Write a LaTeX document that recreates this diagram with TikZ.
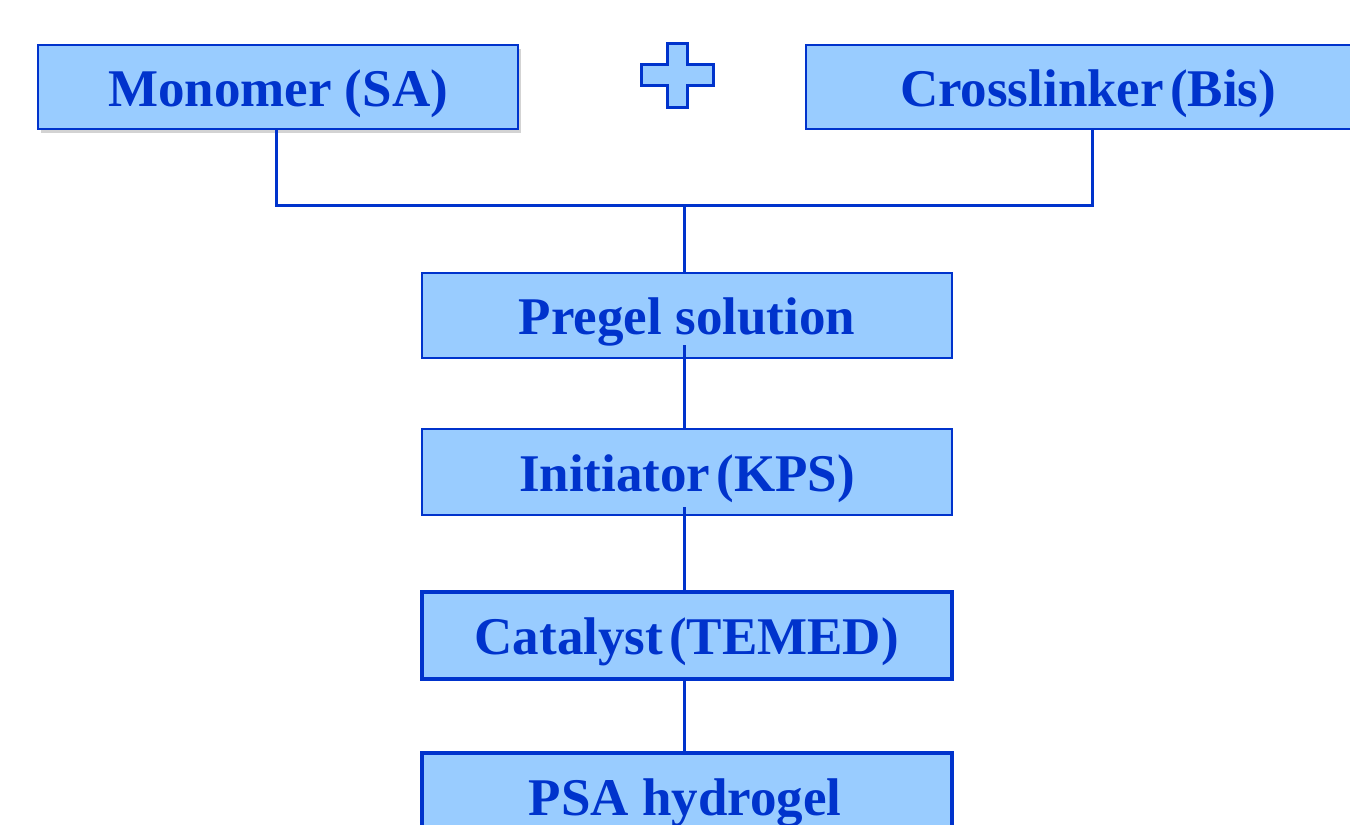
\documentclass[tikz,border=0pt]{standalone}
\usepackage{fontspec}
\setmainfont{Liberation Serif}
\usetikzlibrary{shadows}
\definecolor{tblue}{HTML}{0033CC}
\definecolor{bfill}{HTML}{99CCFF}
\tikzset{
  stepbox/.style={draw=tblue, fill=bfill, line width=2pt, inner sep=0pt, anchor=north west,
    font=\fontsize{53}{60}\selectfont\bfseries, text=tblue, text height=61pt, text depth=23pt},
  thickbox/.style={stepbox, line width=3.5pt},
  conn/.style={draw=tblue, line width=3pt}
}
\newcommand{\tsp}{\hspace{6pt}}
\begin{document}
\begin{tikzpicture}[x=1pt,y=-1pt]
\useasboundingbox (0,0) rectangle (1350,825);
\begin{scope}
\clip (0,0) rectangle (1350,825);
\node[stepbox, minimum width=480pt, minimum height=84pt,
  drop shadow={shadow xshift=3pt, shadow yshift=-4pt, opacity=0.35}] (mono) at (37,44) {Monomer (SA)};
\node[stepbox, minimum width=600pt, minimum height=84pt, text width=560pt, align=left] (cross) at (805,44) {\hspace*{74pt}Crosslinker\tsp(Bis)};
\node[stepbox, minimum width=530pt, minimum height=85pt] (pregel) at (421,272) {Pregel solution};
\node[stepbox, minimum width=530pt, minimum height=86pt] (init) at (421,428) {Initiator\tsp(KPS)};
\node[thickbox, minimum width=530pt, minimum height=87pt] (cat) at (420,590) {Catalyst\tsp(TEMED)};
\node[thickbox, minimum width=530pt, minimum height=110pt, text depth=0pt] (psa) at (420,751) {};
\node[font=\fontsize{53}{60}\selectfont\bfseries, text=tblue, anchor=base] (psatext) at (685,815) {PSA hydrogel};
\draw[draw=tblue, fill=bfill, line width=3pt]
  (667,43) -- (687,43) -- (687,64) -- (713,64) -- (713,85) -- (687,85) -- (687,107)
  -- (667,107) -- (667,85) -- (641,85) -- (641,64) -- (667,64) -- cycle;
\coordinate (jl) at (276,205);
\coordinate (jr) at (1092,205);
\coordinate (jc) at (684,205);
\draw[conn] (mono.south -| jl) -- (jl) -- (jr) -- (cross.south -| jr);
\draw[conn] (jc) -- (pregel.north -| jc);
\draw[conn] (684,345) -- (init.north -| jc);
\draw[conn] (684,507) -- (cat.north -| jc);
\draw[conn] (cat.south -| jc) -- (psa.north -| jc);
\end{scope}
\end{tikzpicture}
\end{document}
